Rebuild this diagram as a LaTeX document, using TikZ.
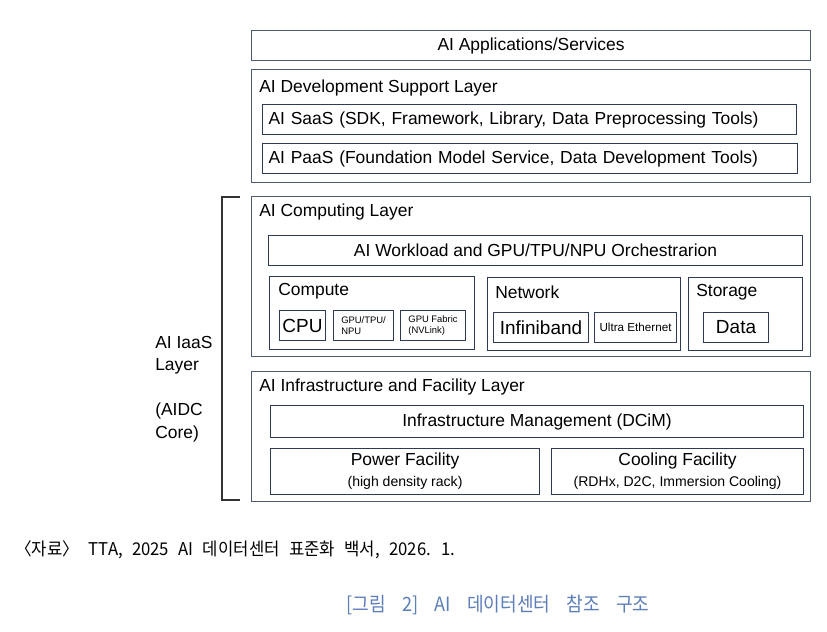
\documentclass[tikz,border=0pt]{standalone}
\usepackage{fontspec}
\setmainfont{Liberation Sans}
\newfontfamily\kofont[FakeStretch=0.95,WordSpace=2.5]{Noto Sans CJK KR}
\newfontfamily\kocapfont[FakeStretch=0.92,WordSpace=4]{Noto Sans CJK KR}
\usetikzlibrary{positioning}
\definecolor{outerline}{HTML}{4F5B73}
\definecolor{innerline}{HTML}{2E3B58}
\definecolor{captionblue}{HTML}{5B7DB8}
\newcommand{\pxu}{0.025cm}
\newcommand{\bodyfont}{\fontsize{12.4}{16}\selectfont}
\newcommand{\smallfont}{\fontsize{6.7}{8}\selectfont}
\tikzstyle{layer} = [draw=outerline, line width=0.75pt, rectangle, anchor=north west, inner sep=0pt, font=\bodyfont]
\tikzstyle{block} = [draw=innerline, line width=0.75pt, rectangle, anchor=north west, inner sep=0pt, font=\bodyfont]
\tikzstyle{title} = [anchor=west, inner sep=0pt, font=\bodyfont]
\tikzset{size/.style 2 args={minimum width=#1*\pxu, minimum height=#2*\pxu}}

\begin{document}
\begin{tikzpicture}[x=0.025cm,y=-0.025cm]
    \useasboundingbox (0,0) rectangle (827,631);

    % top layers
    \node [layer, size={559}{30}] (apps) at (251,30) {AI Applications/Services};
    \node [layer, size={559}{113}] (devlayer) at (251,69) {};
    \node [title] (devtitle) at (259,88) {AI Development Support Layer};
    \node [block, size={534}{30}, text width=522*\pxu, inner xsep=6*\pxu, align=left] (saas) at (262,104)
        {AI SaaS (SDK, Framework, Library, Data Preprocessing Tools)};
    \node [block, size={535}{30}, text width=523*\pxu, inner xsep=6*\pxu, align=left] (paas) at (262,143)
        {AI PaaS (Foundation Model Service, Data Development Tools)};

    % computing layer
    \node [layer, size={559}{160}] (complayer) at (251,196) {};
    \node [title] (comptitle) at (259,212) {AI Computing Layer};
    \node [block, size={534}{30}] (workload) at (268,235) {AI Workload and GPU/TPU/NPU Orchestrarion};
    \node [block, size={205}{73}] (compute) at (269,276) {};
    \node [title] (computetitle) at (278,291) {Compute};
    \node [block, size={46}{30}, font=\fontsize{13.5}{16}\selectfont] (cpu) at (279,310) {CPU};
    \node [block, size={60}{30}, font=\smallfont, align=left] (gpu) at (333,310) {GPU/TPU/\\NPU};
    \node [block, size={65}{30}, font=\smallfont, align=left] (fabric) at (400,310) {GPU Fabric\\(NVLink)};
    \node [block, size={193}{73}] (network) at (487,277) {};
    \node [title] (networktitle) at (495,292) {Network};
    \node [block, size={95}{30}, font=\fontsize{13.5}{16}\selectfont] (infiniband) at (493,312) {Infiniband};
    \node [block, size={82}{30}, font=\fontsize{8.3}{10}\selectfont] (ethernet) at (594,312) {Ultra Ethernet};
    \node [block, size={114}{73}] (storage) at (688,277) {};
    \node [title] (storagetitle) at (696,292) {Storage};
    \node [block, size={65}{30}, font=\fontsize{13.5}{16}\selectfont] (data) at (703,312) {Data};

    % infrastructure layer
    \node [layer, size={559}{130}] (infralayer) at (251,371) {};
    \node [title] (infratitle) at (259,387) {AI Infrastructure and Facility Layer};
    \node [block, size={533}{32}] (dcim) at (270,405) {Infrastructure Management (DCiM)};
    \node [block, size={269}{46}, align=center] (power) at (270,448)
        {Power Facility\\[-1pt]{\fontsize{10}{12}\selectfont (high density rack)}};
    \node [block, size={252}{46}, align=center] (cooling) at (551,448)
        {Cooling Facility\\[-1pt]{\fontsize{10}{12}\selectfont (RDHx, D2C, Immersion Cooling)}};

    % bracket and side label
    \coordinate (brtop) at (240,197);
    \coordinate (brbot) at (240,500);
    \draw [line width=0.75pt, black!80] (brtop) -- ++(-18,0) |- (brbot);
    \node [anchor=north west, inner sep=0pt, align=left, font=\bodyfont] (iaas) at (155,336)
        {AI IaaS\\Layer\\[16pt](AIDC\\Core)};

    % source and caption
    \node [anchor=west, inner sep=0pt, font=\kofont\fontsize{12.5}{15}\selectfont] (source) at (15,550)
        {〈자료〉 TTA, 2025 AI 데이터센터 표준화 백서, 2026. 1.};
    \node [inner sep=0pt, text=captionblue, font=\kocapfont\fontsize{14}{17}\selectfont] (caption) at (498,605)
        {[그림 2] AI 데이터센터 참조 구조};
\end{tikzpicture}
\end{document}
